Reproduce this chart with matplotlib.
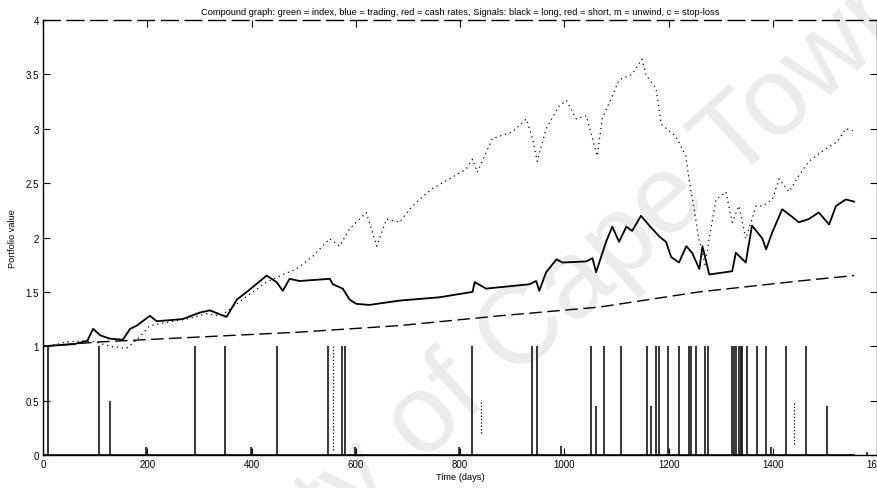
import matplotlib.pyplot as plt

# index (dotted)
index_days = [0, 20, 45, 77, 100, 128, 160, 180, 205, 237, 276, 314, 340, 358, 391,
              429, 460, 486, 518, 550, 569, 588, 620, 630, 640, 659, 684, 703, 722,
              747, 780, 812, 824, 833, 862, 900, 927, 939, 948, 965, 990, 1004, 1023,
              1042, 1054, 1063, 1073, 1092, 1105, 1130, 1149, 1157, 1176, 1186, 1214,
              1233, 1240, 1249, 1258, 1270, 1280, 1291, 1310, 1322, 1335, 1348, 1368,
              1380, 1399, 1412, 1431, 1450, 1469, 1494, 1523, 1540, 1556]
index_vals = [1.00, 1.01, 1.04, 1.05, 1.04, 1.00, 0.98, 1.06, 1.19, 1.22, 1.25, 1.30,
              1.28, 1.34, 1.46, 1.59, 1.66, 1.71, 1.83, 1.99, 1.92, 2.08, 2.23, 2.08,
              1.92, 2.17, 2.14, 2.26, 2.35, 2.45, 2.54, 2.63, 2.72, 2.60, 2.91, 2.97,
              3.09, 2.91, 2.70, 3.00, 3.21, 3.26, 3.09, 3.12, 2.91, 2.75, 3.10, 3.30,
              3.45, 3.50, 3.64, 3.49, 3.37, 3.04, 2.93, 2.75, 2.51, 2.26, 1.99, 1.75,
              2.05, 2.35, 2.42, 2.14, 2.29, 1.99, 2.29, 2.29, 2.35, 2.54, 2.42, 2.57,
              2.70, 2.79, 2.88, 3.00, 2.98]

# trading (solid)
trade_days = [0, 30, 60, 85, 96, 110, 128, 153, 167, 180, 205, 218, 268, 301, 320, 352,
              372, 391, 429, 448, 460, 473, 492, 550, 556, 575, 588, 601, 626, 684, 760,
              824, 828, 850, 933, 946, 952, 965, 985, 996, 1042, 1054, 1061, 1067, 1080,
              1092, 1105, 1119, 1130, 1147, 1163, 1182, 1195, 1205, 1220, 1234, 1245,
              1259, 1265, 1278, 1322, 1329, 1348, 1360, 1380, 1387, 1399, 1418, 1437,
              1450, 1469, 1488, 1508, 1521, 1540, 1556]
trade_vals = [1.00, 1.01, 1.02, 1.05, 1.16, 1.10, 1.07, 1.06, 1.16, 1.19, 1.28, 1.23,
              1.25, 1.31, 1.33, 1.27, 1.43, 1.50, 1.65, 1.59, 1.51, 1.62, 1.60, 1.62,
              1.57, 1.53, 1.43, 1.39, 1.38, 1.42, 1.45, 1.50, 1.59, 1.53, 1.57, 1.60,
              1.51, 1.68, 1.80, 1.77, 1.78, 1.81, 1.68, 1.77, 1.96, 2.10, 1.96, 2.10,
              2.06, 2.20, 2.11, 2.01, 1.96, 1.82, 1.77, 1.92, 1.86, 1.71, 1.92, 1.66,
              1.69, 1.86, 1.77, 2.11, 1.99, 1.89, 2.05, 2.26, 2.19, 2.14, 2.17, 2.23,
              2.12, 2.29, 2.35, 2.33]

# cash rates (dashed)
cash_days = [0, 109, 237, 364, 492, 684, 876, 1067, 1259, 1450, 1556]
cash_vals = [1.00, 1.04, 1.07, 1.10, 1.13, 1.19, 1.28, 1.36, 1.50, 1.60, 1.65]

# signals: long spikes and short (dotted) marks
long_days = [0, 10, 108, 128, 197, 291, 349, 398, 448, 546, 573, 579, 598, 797, 822,
             938, 948, 994, 1052, 1061, 1077, 1109, 1159, 1166, 1176, 1182, 1199, 1220,
             1239, 1243, 1253, 1270, 1276, 1322, 1326, 1329, 1335, 1338, 1341, 1351,
             1370, 1387, 1396, 1425, 1464, 1504, 1581]
long_height = [1, 1, 1, 0.5, 0.07, 1, 1, 0.07, 1, 1, 1, 1, 0.07, 0.07, 1,
               1, 1, 0.08, 1, 0.45, 1, 1, 1, 0.45, 1, 1, 1, 1,
               1, 1, 1, 1, 1, 1, 1, 1, 1, 1, 1, 1,
               1, 1, 0.07, 1, 1, 0.45, 0.03]
short_days = [557, 840, 1441]
short_low = [0.05, 0.2, 0.1]
short_high = [1.0, 0.5, 0.5]

plt.rcParams['font.family'] = ['Liberation Sans', 'DejaVu Sans']

fig = plt.figure(figsize=(8.78, 4.89), dpi=100)
ax = fig.add_axes([0.049, 0.0675, 0.950, 0.8895])

# watermark, behind everything
fig.text(0.525, 0.205, 'University of Cape Town', rotation=42, fontsize=80,
         color='#ececec', ha='center', va='center', zorder=-5)

ax.set_facecolor('none')
ax.plot(index_days, index_vals, color='black', lw=0.9, ls=(0, (1, 3)))
ax.plot(trade_days, trade_vals, color='black', lw=1.3)
ax.plot(cash_days, cash_vals, color='black', lw=1.0, ls=(0, (9, 4)))
ax.vlines(long_days, 0, long_height, color='black', lw=1.1)
ax.vlines(short_days, short_low, short_high, color='black', lw=0.9, linestyles=':')
ax.plot([0, 1556], [0, 0], color='black', lw=1.2)

ax.set_xlim(0, 1600)
ax.set_ylim(0, 4)
ax.set_xticks(range(0, 1601, 200))
ax.set_yticks([0, 0.5, 1, 1.5, 2, 2.5, 3, 3.5, 4])
ax.set_yticklabels(['0', '0.5', '1', '1.5', '2', '2.5', '3', '3.5', '4'])
ax.tick_params(direction='in', length=5, labelsize=7, top=True, right=True, pad=3)
for s in ax.spines.values():
    s.set_linewidth(1.0)
ax.spines['top'].set_linestyle((0, (12, 5)))

ax.set_title('Compound graph: green = index, blue = trading, red = cash rates, '
             'Signals: black = long, red = short, m = unwind, c = stop-loss',
             fontsize=6.7, pad=4)
ax.set_xlabel('Time (days)', fontsize=6.7, labelpad=2)
ax.set_ylabel('Portfolio value', fontsize=6.7, labelpad=6)

plt.savefig('out.png', dpi=100)
